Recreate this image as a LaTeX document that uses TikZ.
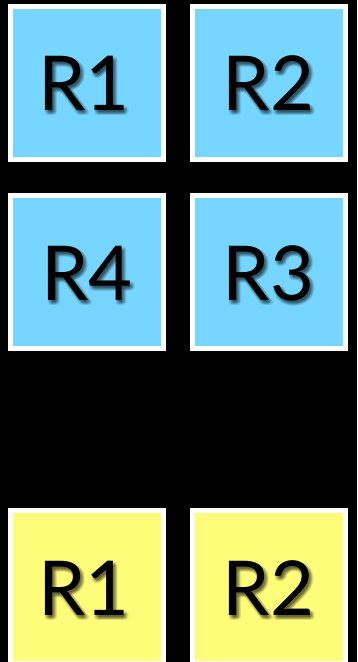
\documentclass[tikz,border=0pt]{standalone}
\usepackage{fontspec}
\setmainfont{Lato}
\definecolor{boxblue}{HTML}{76D6FF}
\definecolor{boxyellow}{HTML}{FFFC79}
\tikzset{
  regbox/.style={draw=white, line width=5bp, minimum size=153bp, inner sep=0pt, outer sep=0pt},
  lbl/.style={font=\fontsize{76}{76}\selectfont, text=black, inner sep=0pt, anchor=base},
  shd/.style={font=\fontsize{76}{76}\selectfont, text=black, text opacity=0.07, inner sep=0pt, anchor=base}
}
\newcommand{\regtext}[3]{%
  \foreach \dx/\dy in {0/2,2/2,4/2,0/4,2/4,4/4,1/5,3/5,3/1,1/3,3/3,5/3}{%
    \node[shd] at ([xshift=\dx bp, yshift=-\dy bp]#1) {#3};}
  \node[lbl] (#2) at (#1) {#3};}
\begin{document}
\begin{tikzpicture}[x=1bp, y=-1bp]
  \fill[black] (0,0) rectangle (357,662);
  \useasboundingbox (0,0) rectangle (357,662);
  \node[regbox, fill=boxblue] (b1) at (87,83) {};
  \node[regbox, fill=boxblue] (b2) at (268.5,83) {};
  \node[regbox, fill=boxblue] (b4) at (87,272) {};
  \node[regbox, fill=boxblue] (b3) at (268.5,272) {};
  \node[regbox, fill=boxyellow] (y1) at (87,587) {};
  \node[regbox, fill=boxyellow] (y2) at (268.5,587) {};
  \coordinate (t1) at (84,111);
  \coordinate (t2) at (268.5,111);
  \coordinate (t4) at (87,300);
  \coordinate (t3) at (268.5,300);
  \coordinate (t5) at (84,615);
  \coordinate (t6) at (268.5,615);
  \regtext{t1}{l1}{R1}
  \regtext{t2}{l2}{R2}
  \regtext{t4}{l4}{R4}
  \regtext{t3}{l3}{R3}
  \regtext{t5}{l5}{R1}
  \regtext{t6}{l6}{R2}
\end{tikzpicture}
\end{document}
